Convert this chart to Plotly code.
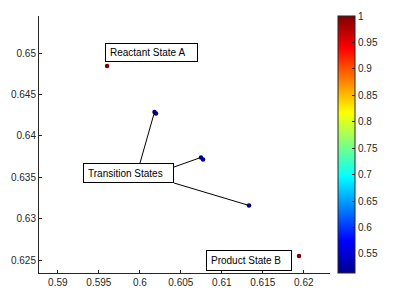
import plotly.graph_objects as go

# ---- data ----
ts_x = [0.60179, 0.60197, 0.60746, 0.60771, 0.61332]
ts_y = [0.64288, 0.64270, 0.63739, 0.63715, 0.63159]
ts_c = [0.520, 0.515, 0.525, 0.518, 0.514]

end_x = [0.59600, 0.61942]
end_y = [0.64844, 0.62549]
end_c = [1.0, 1.0]

x_tickvals = [0.59, 0.595, 0.6, 0.605, 0.61, 0.615, 0.62]
x_ticktext = ["0.59", "0.595", "0.6", "0.605", "0.61", "0.615", "0.62"]
y_tickvals = [0.625, 0.63, 0.635, 0.64, 0.645, 0.65]
y_ticktext = ["0.625", "0.63", "0.635", "0.64", "0.645", "0.65"]
cb_tickvals = [0.55, 0.6, 0.65, 0.7, 0.75, 0.8, 0.85, 0.9, 0.95, 1.0]
cb_ticktext = ["0.55", "0.6", "0.65", "0.7", "0.75", "0.8", "0.85", "0.9", "0.95", "1"]

# ---- layout geometry (page has an 8px body margin) ----
OFF = 8
W, H = 406 - OFF, 301 - OFF
L, R, T, B = 39 - OFF, 330 - OFF, 16 - OFF, 273 - OFF
XR = [0.5877, 0.6232]
YR = [0.62343, 0.65448]
CMIN, CMAX = 0.514, 1.0


def px2x(px):
    return XR[0] + (px - OFF - L) / (R - L) * (XR[1] - XR[0])


def px2y(py):
    return YR[1] - (py - OFF - T) / (B - T) * (YR[1] - YR[0])


def px2paperx(px):
    return (px - OFF - L) / (R - L)


def px2papery(py):
    return (B - (py - OFF)) / (B - T)


jet = [[0, "rgb(0,0,143)"], [0.125, "rgb(0,0,255)"], [0.375, "rgb(0,255,255)"],
       [0.625, "rgb(255,255,0)"], [0.875, "rgb(255,0,0)"], [1, "rgb(128,0,0)"]]

font = dict(family="Liberation Sans, Arial, sans-serif", size=10, color="#262626")

fig = go.Figure()
fig.add_trace(go.Scatter(
    x=ts_x + end_x, y=ts_y + end_y, mode="markers",
    marker=dict(size=4.5, color=ts_c + end_c, colorscale=jet, cmin=CMIN, cmax=CMAX,
                colorbar=dict(
                    x=px2paperx(338), xanchor="left", xpad=0, ypad=0,
                    y=0.5, yanchor="middle", len=1, lenmode="fraction",
                    thickness=17, outlinewidth=1, outlinecolor="#262626",
                    ticks="inside", ticklen=3, tickcolor="#262626",
                    tickvals=cb_tickvals, ticktext=cb_ticktext, tickfont=font)),
    showlegend=False, hoverinfo="skip"))

# leader lines from the "Transition States" box to points
lines = [((140, 163), 0), ((174, 167), 2), ((174, 183), 4)]
for (bx, by), i in lines:
    fig.add_shape(type="line", xref="x", yref="y",
                  x0=px2x(bx), y0=px2y(by), x1=ts_x[i], y1=ts_y[i],
                  line=dict(color="black", width=1))

# text boxes (left, top, right, bottom in px)
boxes = [("Reactant State A", 105, 43, 198, 62),
         ("Transition States", 83, 163, 174, 183),
         ("Product State B", 206, 250, 292, 271)]
for txt, x0, y0, x1, y1 in boxes:
    fig.add_annotation(
        text=txt, xref="paper", yref="paper",
        x=px2paperx(x0), y=px2papery(y0),
        xanchor="left", yanchor="top", showarrow=False,
        width=x1 - x0 - 10, height=y1 - y0 - 10, align="left", valign="middle",
        borderpad=4, borderwidth=1, bordercolor="black", bgcolor="white",
        font=dict(family="Liberation Sans, Arial, sans-serif", size=10, color="black"))

axis_common = dict(showline=True, linecolor="#262626", linewidth=1, mirror=False,
                   ticks="inside", ticklen=3, tickcolor="#262626", showgrid=False,
                   zeroline=False, tickfont=font)
fig.update_layout(
    width=W, height=H,
    margin=dict(l=L, r=W - R, t=T, b=H - B, pad=0, autoexpand=False),
    paper_bgcolor="white", plot_bgcolor="white",
    xaxis=dict(range=XR, tickvals=x_tickvals, ticktext=x_ticktext, **axis_common),
    yaxis=dict(range=YR, tickvals=y_tickvals, ticktext=y_ticktext, **axis_common),
)
fig.write_html("out.html")
